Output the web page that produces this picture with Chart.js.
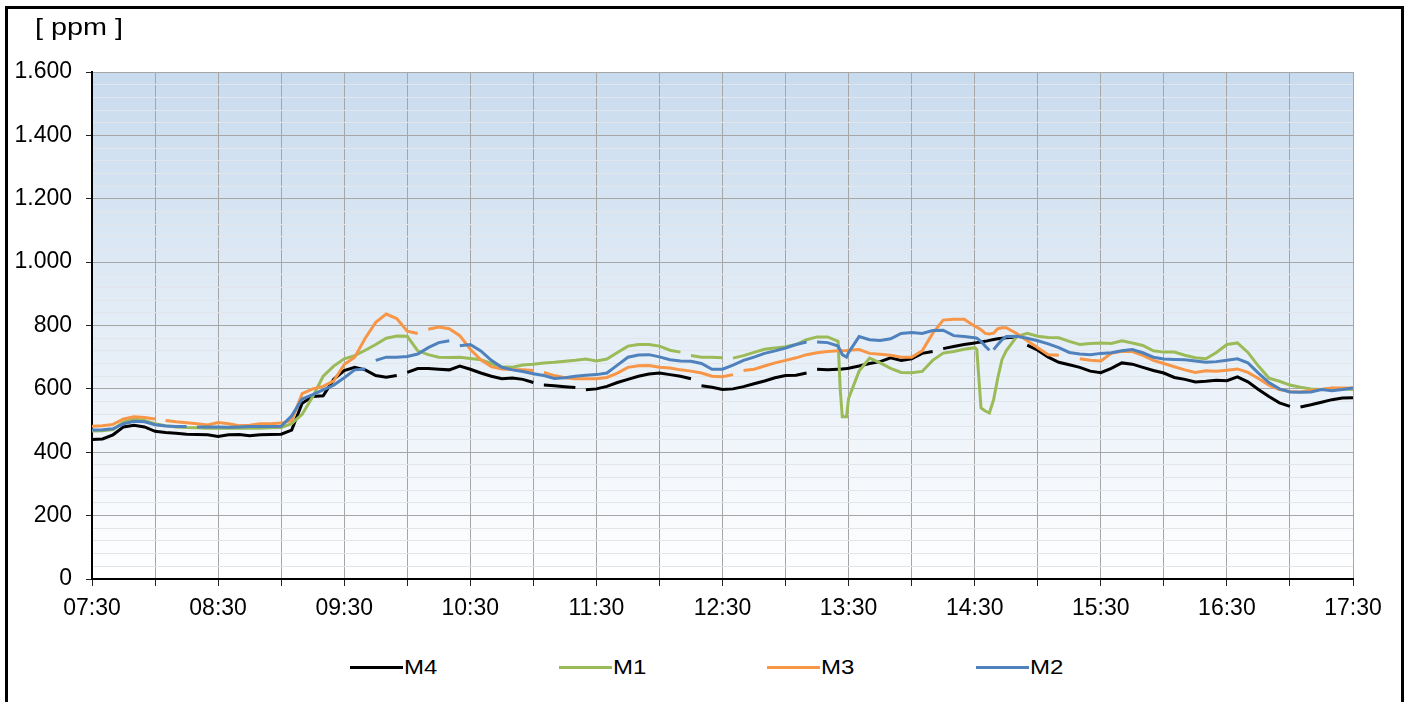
<!DOCTYPE html>
<html>
<head>
<meta charset="utf-8">
<script src="https://cdn.jsdelivr.net/npm/chart.js@4.4.1/dist/chart.umd.min.js"></script>
<style>
    html, body { margin: 0; padding: 0; background: #fff; }
    body { width: 1408px; height: 702px; position: relative; overflow: hidden; font-family: Arial, "Liberation Sans", sans-serif; }
    #frame { position: absolute; left: 5px; top: 6px; width: 1399px; height: 740px; border: 3px solid #000; box-sizing: border-box; }
    #co2Chart { position: absolute; left: 0; top: 0; }
    #unit { position: absolute; left: 35px; top: 13px; font-size: 24px; line-height: 28px; color: #000; transform: scaleX(1.2); transform-origin: left center; white-space: pre; }
    #legend { position: absolute; left: 350px; top: 654px; height: 26px; display: flex; }
    #legend .item { width: 208.5px; display: flex; align-items: center; }
    #legend .swatch { display: inline-block; width: 53px; }
    #legend .label { display: inline-block; font-size: 20px; line-height: 26px; margin-left: 1px; transform: scaleX(1.2); transform-origin: left center; }
</style>
</head>
<body>
<div id="frame"></div>
<canvas id="co2Chart" width="1408" height="632"></canvas>
<div id="unit">[ ppm ]</div>
<div id="legend"></div>
<script>
// minutes after 07:30
const times = [0, 5, 10, 15, 20, 25, 30, 35, 40, 45, 50, 55,
    60, 65, 70, 75, 80, 85, 90, 95, 100, 105, 110, 115,
    120, 125, 130, 135, 140, 145, 150, 155, 160, 165, 170, 175,
    180, 185, 190, 195, 200, 205, 210, 215, 220, 225, 230, 235,
    240, 245, 250, 255, 260, 265, 270, 275, 280, 285, 290, 295,
    300, 305, 310, 315, 320, 325, 330, 335, 340, 345, 350, 355,
    356, 357, 359,
    360, 365, 370, 375, 380, 385, 390, 395, 400, 405, 410, 415, 420,
    421, 423, 425, 427, 429, 431, 433,
    435, 440, 445, 450, 455, 460, 465, 470, 475, 480, 485, 490,
    495, 500, 505, 510, 515, 520, 525, 530, 535, 540, 545, 550,
    555, 560, 565, 570, 575, 580, 585, 590, 595, 600];

const m4Values = [440, 442, 455, 480, 485, 480, 466, 462, 460, 457, 456, 455,
    450, 455, 456, 452, 455, 456, 457, 470, 555, 576, 578, 630,
    658, 668, 660, 642, 637, 642, 652, 664, 664, 662, 660, 672,
    662, 650, 640, 632, 634, 630, 620, 612, 610, 607, 604, 597,
    600, 608, 620, 630, 640, 647, 650, 645, 640, 632, 610, 605,
    598, 600, 607, 616, 625, 635, 642, 643, 650, 662, 660, 662,
    662, 663, 664,
    665, 672, 680, 686, 698, 690, 695, 712, 718, 727, 734, 740, 745,
    746, 748, 750, 753, 756, 758, 760,
    761, 764, 738, 722, 700, 684, 676, 668, 656, 651, 665, 682,
    678, 668, 658, 650, 636, 630, 622, 624, 627, 626, 638, 622,
    598, 576, 556, 545, 543, 550, 558, 566, 571, 572];

const m1Values = [467, 468, 472, 495, 505, 500, 490, 484, 480, 478, 477, 476,
    476, 476, 476, 476, 476, 477, 478, 490, 520, 575, 640, 672,
    695, 705, 722, 740, 760, 767, 766, 720, 708, 700, 699, 700,
    696, 692, 680, 670, 668, 675, 678, 682, 684, 687, 690, 694,
    688, 694, 715, 735, 740, 740, 735, 722, 716, 705, 700, 700,
    698, 697, 705, 715, 725, 729, 733, 740, 755, 764, 764, 750,
    600, 512, 512,
    570, 656, 697, 682, 665, 652, 651, 655, 690, 713, 718, 725, 730,
    724, 540, 530, 524, 566, 635, 693,
    720, 765, 775, 766, 762, 761, 750, 740, 743, 745, 743, 752,
    745, 737, 720, 716, 716, 706, 698, 695, 715, 740, 745, 715,
    672, 634, 624, 612, 605, 600, 598, 602, 600, 598];

const m3Values = [482, 484, 488, 505, 512, 510, 505, 500, 496, 493, 490, 486,
    494, 490, 484, 485, 490, 490, 492, 500, 585, 600, 608, 625,
    677, 700, 760, 810, 836, 822, 782, 775, 788, 795, 790, 768,
    725, 692, 670, 663, 661, 660, 658, 652, 642, 635, 632, 632,
    632, 636, 650, 668, 673, 674, 668, 666, 660, 656, 650, 640,
    638, 645, 658, 662, 672, 682, 690, 698, 708, 714, 718, 720,
    720, 720, 721,
    722, 724, 712, 709, 706, 700, 700, 720, 775, 817, 820, 820, 798,
    795, 787, 775, 773, 776, 790, 793,
    793, 775, 752, 730, 708, 706, 702, 695, 690, 688, 712, 719,
    718, 706, 690, 680, 670, 660, 652, 657, 656, 659, 663, 652,
    633, 612, 598, 592, 590, 595, 598, 603, 603, 603];

const m2Values = [470, 471, 474, 490, 498, 496, 487, 483, 481, 481, 480, 480,
    480, 479, 480, 481, 481, 481, 482, 515, 568, 582, 597, 612,
    635, 660, 663, 690, 700, 700, 702, 710, 730, 746, 752, 736,
    740, 720, 690, 668, 660, 655, 648, 642, 633, 635, 640, 643,
    645, 650, 675, 700, 707, 708, 701, 692, 688, 687, 680, 662,
    662, 675, 690, 700, 712, 720, 729, 740, 748, 748, 746, 735,
    722, 708, 700,
    715, 765, 755, 753, 758, 775, 778, 775, 784, 785, 768, 765, 761,
    760, 750, 735, 722, 724, 740, 755,
    765, 766, 760, 752, 742, 730, 715, 710, 708, 712, 714, 720,
    724, 714, 700, 694, 693, 692, 688, 684, 686, 690, 695, 682,
    650, 620, 600, 590, 589, 590, 598, 594, 598, 603];

// short breaks in the logged lines (minutes after 07:30)
const m4Gaps = [147, 214, 234, 288, 342, 403, 442, 572];
const m1Gaps = [284, 303];
const m3Gaps = [34, 157, 211, 306, 461, 469];
const m2Gaps = [48, 133, 172, 343, 428];

const seriesNames = ['M4', 'M1', 'M3', 'M2'];
const seriesColors = ['#000000', '#9bbb59', '#f79646', '#4f81bd'];

function buildPoints(values, gaps) {
    const pts = times.map((t, i) => ({ x: t, y: values[i] }));
    gaps.forEach(g => pts.push({ x: g, y: null }));
    pts.sort((a, b) => a.x - b.x);
    return pts;
}

function timeLabel(minutes) {
    const total = 7 * 60 + 30 + minutes;
    const h = Math.floor(total / 60);
    const m = total % 60;
    return String(h).padStart(2, '0') + ':' + String(m).padStart(2, '0');
}

function ppmLabel(v) {
    if (v >= 1000) return Math.floor(v / 1000) + '.' + String(v % 1000).padStart(3, '0');
    return String(v);
}

// blue-to-white fill behind the plot
const plotBackground = {
    id: 'plotBackground',
    beforeDraw(chart) {
        const { ctx, chartArea } = chart;
        const grad = ctx.createLinearGradient(0, chartArea.top, 0, chartArea.bottom);
        grad.addColorStop(0, '#c8dbee');
        grad.addColorStop(1, '#ffffff');
        ctx.save();
        ctx.fillStyle = grad;
        ctx.fillRect(chartArea.left, chartArea.top, chartArea.right - chartArea.left, chartArea.bottom - chartArea.top);
        ctx.restore();
    }
};

Chart.defaults.font.family = 'Arial, "Liberation Sans", sans-serif';
Chart.defaults.color = '#000';

const allValues = [m4Values, m1Values, m3Values, m2Values];
const allGaps = [m4Gaps, m1Gaps, m3Gaps, m2Gaps];

const chart = new Chart(document.getElementById('co2Chart'), {
    type: 'line',
    data: {
        datasets: seriesNames.map((name, i) => ({
            label: name,
            data: buildPoints(allValues[i], allGaps[i]),
            borderColor: seriesColors[i],
            backgroundColor: seriesColors[i],
            borderWidth: 3,
            pointRadius: 0,
            tension: 0,
            fill: false,
            spanGaps: false,
            order: seriesNames.length - 1 - i
        }))
    },
    options: {
        responsive: false,
        animation: false,
        events: [],
        layout: { padding: { top: 72, right: 55, bottom: 0, left: 0 } },
        plugins: {
            legend: { display: false },
            tooltip: { enabled: false }
        },
        scales: {
            x: {
                type: 'linear',
                min: 0,
                max: 600,
                ticks: {
                    stepSize: 30,
                    autoSkip: false,
                    maxRotation: 0,
                    padding: 9,
                    font: { size: 23 },
                    callback: v => (Math.round(v) % 60 === 0 ? timeLabel(Math.round(v)) : '')
                },
                grid: { color: '#a6a6a6', lineWidth: 1, tickLength: 7, tickColor: '#222' },
                border: { color: '#000', width: 2 },
                afterFit: s => { s.height = 53; }
            },
            y: {
                min: 0,
                max: 1600,
                ticks: {
                    stepSize: 40,
                    autoSkip: false,
                    padding: 14,
                    font: { size: 23 },
                    callback: v => (Math.round(v) % 200 === 0 ? ppmLabel(Math.round(v)) : '')
                },
                grid: {
                    color: c => (Math.round(c.tick.value) % 200 === 0 ? '#a6a6a6' : '#e2e5e9'),
                    tickColor: c => (Math.round(c.tick.value) % 200 === 0 ? '#222' : 'rgba(0,0,0,0)'),
                    lineWidth: 1,
                    tickLength: 6
                },
                border: { color: '#000', width: 2 },
                afterFit: s => { s.width = 92; }
            }
        }
    },
    plugins: [plotBackground]
});

// legend in dataset order, drawn as html under the plot
const legendBox = document.getElementById('legend');
chart.data.datasets.forEach(ds => {
    const item = document.createElement('div');
    item.className = 'item';
    const swatch = document.createElement('span');
    swatch.className = 'swatch';
    swatch.style.height = '3px';
    swatch.style.background = ds.borderColor;
    const label = document.createElement('span');
    label.className = 'label';
    label.textContent = ds.label;
    item.appendChild(swatch);
    item.appendChild(label);
    legendBox.appendChild(item);
});
</script>
</body>
</html>
